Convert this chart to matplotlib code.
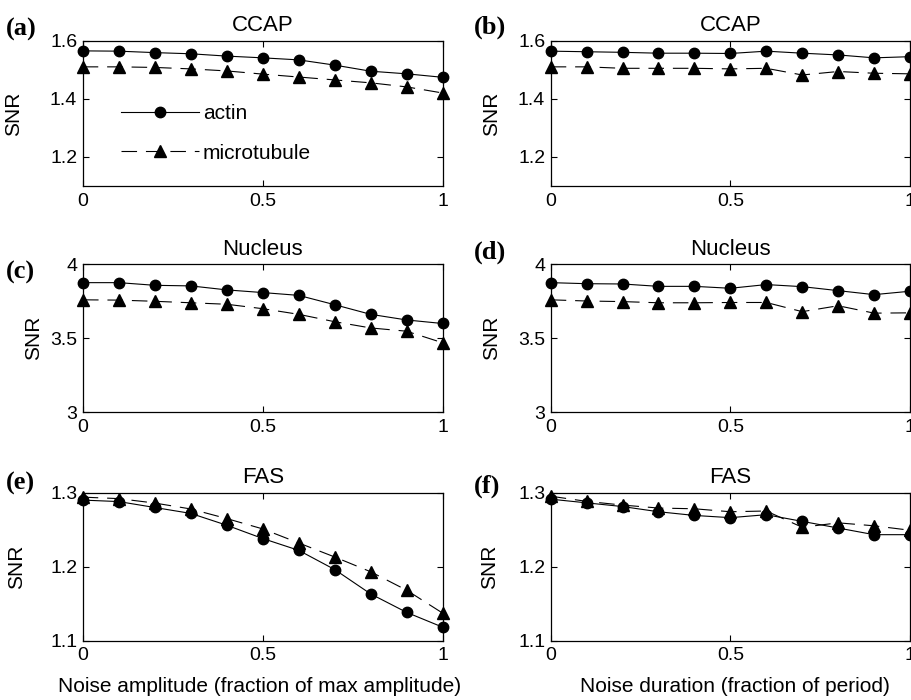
import matplotlib
matplotlib.use("Agg")
import matplotlib.pyplot as plt

# ── Data ──────────────────────────────────────────────────────────────────────
noise = [0.0, 0.1, 0.2, 0.3, 0.4, 0.5, 0.6, 0.7, 0.8, 0.9, 1.0]

# amplitude sweep (left column)
ccap_amp_actin = [1.565, 1.564, 1.559, 1.555, 1.547, 1.541, 1.534, 1.516, 1.495, 1.486, 1.474]
ccap_amp_micro = [1.510, 1.510, 1.508, 1.503, 1.496, 1.485, 1.475, 1.465, 1.455, 1.441, 1.420]
nuc_amp_actin = [3.876, 3.876, 3.858, 3.854, 3.827, 3.809, 3.790, 3.727, 3.662, 3.624, 3.600]
nuc_amp_micro = [3.760, 3.758, 3.750, 3.740, 3.730, 3.700, 3.662, 3.612, 3.570, 3.548, 3.470]
fas_amp_actin = [1.290, 1.288, 1.280, 1.272, 1.256, 1.238, 1.222, 1.196, 1.163, 1.138, 1.118]
fas_amp_micro = [1.294, 1.292, 1.286, 1.278, 1.265, 1.251, 1.232, 1.213, 1.193, 1.168, 1.137]

# duration sweep (right column)
ccap_dur_actin = [1.564, 1.562, 1.560, 1.557, 1.557, 1.556, 1.564, 1.557, 1.551, 1.541, 1.545]
ccap_dur_micro = [1.510, 1.510, 1.505, 1.505, 1.505, 1.503, 1.505, 1.482, 1.494, 1.488, 1.486]
nuc_dur_actin = [3.876, 3.869, 3.867, 3.851, 3.851, 3.838, 3.863, 3.849, 3.822, 3.795, 3.818]
nuc_dur_micro = [3.760, 3.752, 3.748, 3.740, 3.740, 3.742, 3.742, 3.680, 3.720, 3.670, 3.672]
fas_dur_actin = [1.291, 1.286, 1.281, 1.274, 1.269, 1.266, 1.270, 1.261, 1.252, 1.243, 1.243]
fas_dur_micro = [1.295, 1.288, 1.283, 1.279, 1.278, 1.274, 1.275, 1.253, 1.259, 1.255, 1.249]

titles = ["CCAP", "CCAP", "Nucleus", "Nucleus", "FAS", "FAS"]
letters = ["(a)", "(b)", "(c)", "(d)", "(e)", "(f)"]
ylims = [(1.1, 1.6), (1.1, 1.6), (3, 4), (3, 4), (1.1, 1.3), (1.1, 1.3)]
yticks = [[1.2, 1.4, 1.6], [1.2, 1.4, 1.6], [3, 3.5, 4], [3, 3.5, 4],
          [1.1, 1.2, 1.3], [1.1, 1.2, 1.3]]
yticklabels = [["1.2", "1.4", "1.6"], ["1.2", "1.4", "1.6"], ["3", "3.5", "4"],
               ["3", "3.5", "4"], ["1.1", "1.2", "1.3"], ["1.1", "1.2", "1.3"]]
series = [
    (ccap_amp_actin, ccap_amp_micro), (ccap_dur_actin, ccap_dur_micro),
    (nuc_amp_actin, nuc_amp_micro), (nuc_dur_actin, nuc_dur_micro),
    (fas_amp_actin, fas_amp_micro), (fas_dur_actin, fas_dur_micro),
]

# ── Layout (pixel boxes measured on the 911x700 reference) ────────────────────
W, H = 911, 700
# left, top, right, bottom in pixels
boxes = [
    (82.7, 40.7, 442.7, 186.0), (550.7, 40.7, 910.0, 186.0),
    (83.0, 264.3, 442.5, 412.3), (550.7, 264.3, 910.0, 412.3),
    (82.7, 492.7, 442.7, 640.5), (550.7, 492.5, 910.0, 640.5),
]
snr_x = [-0.165, -0.138, -0.112, -0.138, -0.157, -0.143]
letter_pos = [(6, 29), (474, 27), (6, 272), (474, 252), (6, 483), (474, 486)]

plt.rcParams['font.family'] = ['Liberation Sans', 'DejaVu Sans']

fig = plt.figure(figsize=(W / 100, H / 100), dpi=100)

for k in range(6):
    l, t, r, b = boxes[k]
    ax = fig.add_axes([l / W, 1 - b / H, (r - l) / W, (b - t) / H])
    actin, micro = series[k]
    ax.plot(noise, actin, color='black', lw=0.8, marker='o', ms=7.5,
            label='actin', clip_on=False, zorder=3)
    ax.plot(noise, micro, color='black', lw=0.8, marker='^', ms=8.5,
            dashes=(14, 8), label='microtubule', clip_on=False, zorder=3)

    ax.set_xlim(0, 1)
    ax.set_ylim(*ylims[k])
    ax.set_xticks([0, 0.5, 1])
    ax.set_xticklabels(["0", "0.5", "1"])
    ax.set_yticks(yticks[k])
    ax.set_yticklabels(yticklabels[k])
    ax.tick_params(direction='in', length=4, width=0.8, top=True, right=True,
                   labelsize=14)
    ax.tick_params(axis='x', pad=5)
    ax.tick_params(axis='y', pad=4)
    for sp in ax.spines.values():
        sp.set_linewidth(0.9)

    ax.set_title(titles[k], fontsize=16, pad=7)
    ax.set_ylabel("SNR", fontsize=15)
    ax.yaxis.set_label_coords(snr_x[k], 0.5)

    lx, ly = letter_pos[k]
    fig.text(lx / W, 1 - ly / H, letters[k], fontsize=19, fontweight='bold',
             family='Liberation Serif', va='center', ha='left')

    if k == 0:
        ax.legend(loc='upper left', bbox_to_anchor=(0.105, 0.565), frameon=False,
                  fontsize=15, handlelength=3.75, borderpad=0, labelspacing=1.0,
                  handletextpad=0.2, borderaxespad=0)
    if k == 4:
        ax.set_xlabel("Noise amplitude (fraction of max amplitude)", fontsize=15)
        ax.xaxis.set_label_coords(0.49, -0.25)
    if k == 5:
        ax.set_xlabel("Noise duration (fraction of period)", fontsize=15)
        ax.xaxis.set_label_coords(0.514, -0.25)

fig.savefig("out.png", dpi=100)
